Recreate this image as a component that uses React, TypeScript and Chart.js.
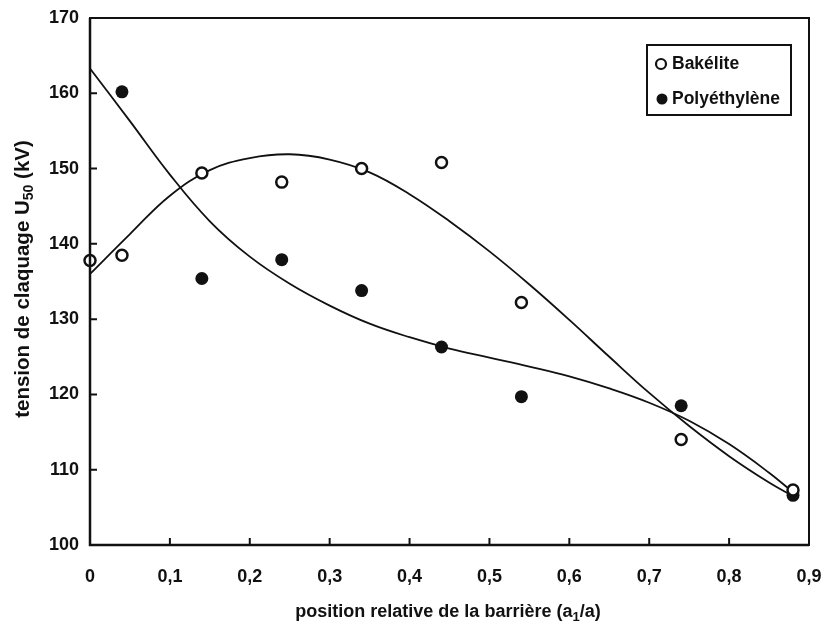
import React, { useEffect, useRef } from "react";
import { Chart, registerables } from "chart.js";

Chart.register(...registerables);

// Measured points
const bakeliteX = [0, 0.04, 0.14, 0.24, 0.34, 0.44, 0.54, 0.74, 0.88];
const bakeliteY = [137.8, 138.5, 149.4, 148.2, 150.0, 150.8, 132.2, 114.0, 107.3];
const polyX = [0.04, 0.14, 0.24, 0.34, 0.44, 0.54, 0.74, 0.88];
const polyY = [160.2, 135.4, 137.9, 133.8, 126.3, 119.7, 118.5, 106.6];

// Fitted curves
const curveX = [0, 0.05, 0.1, 0.15, 0.2, 0.25, 0.3, 0.35, 0.4, 0.45, 0.5, 0.55, 0.6, 0.65, 0.7, 0.75, 0.8, 0.85, 0.88];
const bakCurveY = [136.0, 141.3, 146.4, 149.8, 151.4, 151.9, 151.2, 149.5, 146.6, 143.0, 139.0, 134.6, 129.9, 125.0, 120.2, 115.8, 111.8, 108.3, 106.5];
const polyCurveY = [163.3, 156.3, 149.2, 143.0, 138.3, 134.7, 131.8, 129.4, 127.6, 126.1, 124.9, 123.7, 122.4, 120.8, 118.9, 116.5, 113.4, 109.6, 107.0];

const xTicks = [0, 0.1, 0.2, 0.3, 0.4, 0.5, 0.6, 0.7, 0.8, 0.9];
const yTicks = [100, 110, 120, 130, 140, 150, 160, 170];
const seriesLabels = ["Bakélite", "Polyéthylène"];
const yTitleParts = ["tension de claquage U", "50", " (kV)"];
const xTitleParts = ["position relative de la barrière (a", "1", "/a)"];

const FONT = "'Liberation Sans', Arial, sans-serif";

const pts = (xs: number[], ys: number[]) => xs.map((x, i) => ({ x, y: ys[i] }));

function drawSubText(ctx: CanvasRenderingContext2D, parts: string[], size: number, subSize: number) {
  ctx.font = `bold ${size}px ${FONT}`;
  const w0 = ctx.measureText(parts[0]).width;
  const w2 = ctx.measureText(parts[2]).width;
  ctx.font = `bold ${subSize}px ${FONT}`;
  const w1 = ctx.measureText(parts[1]).width;
  const total = w0 + w1 + w2;
  let x = -total / 2;
  ctx.textAlign = "left";
  ctx.textBaseline = "middle";
  ctx.font = `bold ${size}px ${FONT}`;
  ctx.fillText(parts[0], x, 0);
  x += w0;
  ctx.font = `bold ${subSize}px ${FONT}`;
  ctx.fillText(parts[1], x, size * 0.3);
  x += w1;
  ctx.font = `bold ${size}px ${FONT}`;
  ctx.fillText(parts[2], x, 0);
}

const framePlugin = {
  id: "frame",
  afterDraw(chart: any) {
    const { ctx, chartArea } = chart;
    const { left, right, top, bottom } = chartArea;
    const xs = chart.scales.x;
    const ys = chart.scales.y;
    ctx.save();
    ctx.strokeStyle = "#111";
    ctx.lineWidth = 2;
    ctx.strokeRect(left, top, right - left, bottom - top);
    ctx.lineWidth = 2.5;
    ctx.beginPath();
    ctx.moveTo(left, top);
    ctx.lineTo(left, bottom);
    ctx.lineTo(right, bottom);
    ctx.stroke();
    // inward ticks
    ctx.lineWidth = 2;
    ctx.beginPath();
    xTicks.slice(1, -1).forEach((v) => {
      const px = xs.getPixelForValue(v);
      ctx.moveTo(px, bottom);
      ctx.lineTo(px, bottom - 7);
    });
    yTicks.slice(1, -1).forEach((v) => {
      const py = ys.getPixelForValue(v);
      ctx.moveTo(left, py);
      ctx.lineTo(left + 7, py);
    });
    ctx.stroke();

    // legend
    const lx = 647, ly = 45, lw = 144, lh = 70;
    ctx.fillStyle = "#fff";
    ctx.fillRect(lx, ly, lw, lh);
    ctx.lineWidth = 2;
    ctx.strokeRect(lx, ly, lw, lh);
    ctx.fillStyle = "#111";
    ctx.font = `bold 17.5px ${FONT}`;
    ctx.textAlign = "left";
    ctx.textBaseline = "middle";
    ctx.beginPath();
    ctx.arc(661, 64, 5, 0, Math.PI * 2);
    ctx.lineWidth = 2.2;
    ctx.stroke();
    ctx.fillText(seriesLabels[0], 672, 64);
    ctx.beginPath();
    ctx.arc(662, 99, 5.5, 0, Math.PI * 2);
    ctx.fill();
    ctx.fillText(seriesLabels[1], 672, 99);

    // axis titles
    ctx.save();
    ctx.translate(23, 279);
    ctx.rotate(-Math.PI / 2);
    drawSubText(ctx, yTitleParts, 20.5, 14);
    ctx.restore();
    ctx.save();
    ctx.translate(448, 612);
    drawSubText(ctx, xTitleParts, 18, 13);
    ctx.restore();
    ctx.restore();
  },
};

export default function App() {
  const ref = useRef<HTMLCanvasElement | null>(null);
  useEffect(() => {
    document.body.style.margin = "0";
    const canvas = ref.current!;
    const chart = new Chart(canvas, {
      type: "scatter",
      data: {
        datasets: [
          {
            label: seriesLabels[0],
            data: pts(bakeliteX, bakeliteY),
            pointRadius: 5.5,
            pointBorderWidth: 2.5,
            pointBorderColor: "#111",
            pointBackgroundColor: "#fff",
            showLine: false,
            clip: false,
          } as any,
          {
            label: seriesLabels[1],
            data: pts(polyX, polyY),
            pointRadius: 6.5,
            pointBorderWidth: 0,
            pointBorderColor: "#111",
            pointBackgroundColor: "#111",
            showLine: false,
            clip: false,
          } as any,
          {
            label: seriesLabels[0] + " fit",
            data: pts(curveX, bakCurveY),
            showLine: true,
            pointRadius: 0,
            borderColor: "#111",
            borderWidth: 1.8,
            tension: 0.4,
            clip: false,
          } as any,
          {
            label: seriesLabels[1] + " fit",
            data: pts(curveX, polyCurveY),
            showLine: true,
            pointRadius: 0,
            borderColor: "#111",
            borderWidth: 1.8,
            tension: 0.4,
            clip: false,
          } as any,
        ],
      },
      options: {
        animation: false,
        responsive: false,
        devicePixelRatio: 1,
        layout: { padding: { top: 18, right: 16, left: 0, bottom: 0 } },
        plugins: { legend: { display: false }, tooltip: { enabled: false } },
        scales: {
          x: {
            type: "linear",
            min: 0,
            max: 0.9,
            afterFit: (s: any) => { s.height = 90; s.paddingLeft = 0; s.paddingRight = 0; },
            afterBuildTicks: (s: any) => { s.ticks = xTicks.map((v) => ({ value: v })); },
            grid: { display: false, drawTicks: false, tickLength: 0 },
            border: { display: false },
            ticks: {
              padding: 21,
              color: "#111",
              font: { family: FONT, size: 18, weight: "bold" },
              maxRotation: 0,
              autoSkip: false,
              callback: (v: any) => (v === 0 ? "0" : (Math.round(v * 10) / 10).toFixed(1).replace(".", ",")),
            },
          },
          y: {
            type: "linear",
            min: 100,
            max: 170,
            afterFit: (s: any) => { s.width = 90; s.paddingTop = 0; s.paddingBottom = 0; },
            afterBuildTicks: (s: any) => { s.ticks = yTicks.map((v) => ({ value: v })); },
            grid: { display: false, drawTicks: false, tickLength: 0 },
            border: { display: false },
            ticks: {
              padding: 11,
              color: "#111",
              font: { family: FONT, size: 18, weight: "bold" },
              autoSkip: false,
              callback: (v: any) => String(v),
            },
          },
        },
      },
      plugins: [framePlugin],
    });
    return () => chart.destroy();
  }, []);
  return (
    <div style={{ width: 825, height: 635, background: "#fff" }}>
      <canvas ref={ref} width={825} height={635} style={{ display: "block" }} />
    </div>
  );
}
